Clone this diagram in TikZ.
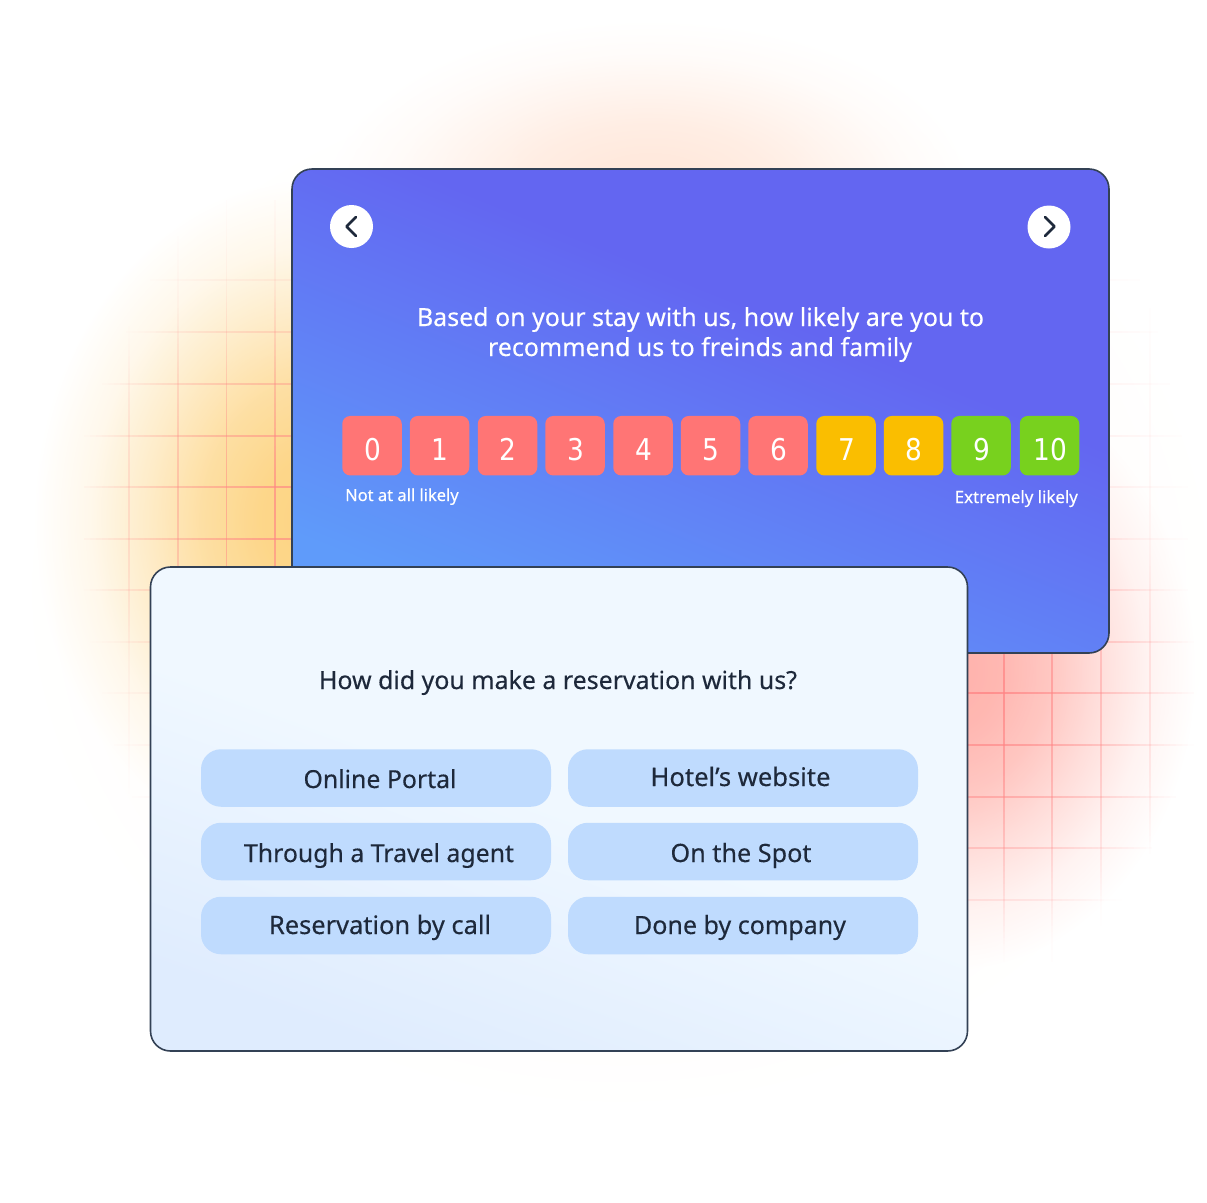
\documentclass[tikz,border=0pt]{standalone}
\usepackage{fontspec}
\usepackage{graphicx}
\setmainfont[FakeBold=0.25]{Noto Sans}
\newfontfamily\digitfont[FakeStretch=.88]{DejaVu Sans}
\usetikzlibrary{fadings}
\definecolor{ink}{HTML}{1E293B}
\definecolor{edge}{HTML}{334155}
\definecolor{cardtop}{HTML}{6366F1}
\definecolor{cardlow}{HTML}{5F9BFA}
\definecolor{paletop}{HTML}{F0F8FF}
\definecolor{palelow}{HTML}{DFECFE}
\definecolor{pill}{HTML}{BFDBFE}
\definecolor{nred}{HTML}{FF7575}
\definecolor{nyel}{HTML}{FABE00}
\definecolor{ngrn}{HTML}{78D11E}
\definecolor{gridc}{HTML}{FF8585}
\pgfdeclareradialshading{softglowshade}{\pgfpointorigin}{%
 color(0bp)=(pgftransparent!0);
 color(5bp)=(pgftransparent!8);
 color(10bp)=(pgftransparent!28);
 color(15bp)=(pgftransparent!58);
 color(20bp)=(pgftransparent!85);
 color(25bp)=(pgftransparent!100);
 color(50bp)=(pgftransparent!100)}
\pgfdeclarefading{softglow}{\pgfuseshading{softglowshade}}
\pgfdeclareverticalshading{cardfade}{100bp}{%
 color(0bp)=(cardlow); color(27bp)=(cardlow); color(60bp)=(cardtop); color(100bp)=(cardtop)}
\newcommand\fitw[2]{\resizebox{#1pt}{!}{#2}}
\tikzset{
 x=1pt,y=-1pt,
 declare function={
  gridop(\a,\b)=max(0.7*max(0,1-veclen((\a-285)/215,(\b-510)/260)),
      0.8*max(0,1-veclen((\a-985)/215,(\b-690)/265)),
      0.30*max(0,1-veclen((\a-285)/205,(\b-560)/400)),
      0.22*max(0,1-veclen((\a-1030)/170,(\b-570)/420)));
 },
 glowspot/.style={path fading=softglow,draw=none},
 card/.style={draw=edge,line width=1.6pt,rounded corners=20pt,inner sep=0pt,outer sep=0pt,
   minimum width=#1,minimum height=484pt,anchor=north west},
 sq/.style={fill=#1,rounded corners=8pt,inner sep=0pt,minimum width=59.5pt,minimum height=59.5pt,draw=none},
 digit/.style={text=white,font=\digitfont\fontsize{30}{30}\selectfont,anchor=base,inner sep=0pt},
 pillbox/.style={fill=pill,rounded corners=20pt,inner sep=0pt,minimum width=350pt,minimum height=57.5pt,draw=none},
 pilltext/.style={text=ink,anchor=base,inner sep=0pt},
 whitetext/.style={text=white,anchor=base,inner sep=0pt},
 navdisc/.style={circle,fill=white,inner sep=0pt,minimum size=43pt,draw=none},
 chev/.style={draw=ink,line width=2.6pt,line cap=round,line join=round},
}
\begin{document}
\begin{tikzpicture}
\useasboundingbox (0,0) rectangle (1207,1202);
% soft colour glows
\fill[glowspot,fill=orange!12!white,opacity=.6] (620,590) ellipse (610 and 530);
\fill[glowspot,fill={rgb,255:red,255;green,226;blue,210},opacity=.8] (650,190) ellipse (320 and 170);
\fill[glowspot,fill={rgb,255:red,253;green,212;blue,130},opacity=1] (315,520) ellipse (280 and 340);
\fill[glowspot,fill={rgb,255:red,255;green,178;blue,172},opacity=1] (950,670) ellipse (245 and 300);
% faded grid
\foreach \gy in {280,332,384,436,487,539,590,642,693,745,797,848,900}{
 \foreach \gx in {84,90,...,1194}{
  \pgfmathsetmacro\gop{gridop(\gx+3,\gy)}
  \pgfmathparse{\gop>0.012?1:0}
  \ifnum\pgfmathresult=1
   \draw[gridc,line width=1.2pt,opacity=\gop] (\gx,\gy) -- (\gx+6,\gy);
  \fi
 }
}
\foreach \gx in {129,178,226.7,275,1004,1052,1101,1150}{
 \foreach \gy in {200,206,...,980}{
  \pgfmathsetmacro\gop{gridop(\gx,\gy+3)}
  \pgfmathparse{\gop>0.012?1:0}
  \ifnum\pgfmathresult=1
   \draw[gridc,line width=1.2pt,opacity=\gop] (\gx,\gy) -- (\gx,\gy+6);
  \fi
 }
}
% upper card
\node[card=817pt,shading=cardfade,shading angle=-22] (upper) at (292,169) {};
\node[navdisc] (prev) at (351.5,226.5) {};
\node[navdisc] (next) at (1049,227) {};
\coordinate (p1) at (356,217); \coordinate (p2) at (346.5,226.5); \coordinate (p3) at (356,236);
\coordinate (n1) at (1045,217); \coordinate (n2) at (1054.5,226.5); \coordinate (n3) at (1045,236);
\draw[chev] (p1) -- (p2) -- (p3);
\draw[chev] (n1) -- (n2) -- (n3);
\node[whitetext] (q1a) at (700.5,326) {\fitw{567}{Based on your stay with us, how likely are you to}};
\node[whitetext] (q1b) at (700,356) {\fitw{424}{recommend us to freinds and family}};
\foreach \n/\cx/\col in {0/372/nred,1/439.5/nred,2/507.5/nred,3/575/nred,4/643/nred,5/710.5/nred,6/778/nred,7/846/nyel,8/913.5/nyel,9/981/ngrn,10/1049.5/ngrn}{
 \node[sq=\col] (s\n) at (\cx,445.7) {};
 \node[digit] (d\n) at (\cx+0.5,460.5) {\n};
}
\node[whitetext,anchor=base west] (lo) at (345,501) {\fitw{113.5}{Not at all likely}};
\node[whitetext,anchor=base east] (hi) at (1078,503) {\fitw{123}{Extremely likely}};
% lower card
\node[card=817pt,top color=paletop,bottom color=palelow,middle color=paletop,shading angle=-20] (lower) at (150.5,567) {};
\node[pilltext] (q2) at (558,689) {\fitw{478}{How did you make a reservation with us?}};
\node[pillbox] (a1) at (376,778) {};
\node[pillbox] (a2) at (743,778) {};
\node[pillbox] (a3) at (376,851.5) {};
\node[pillbox] (a4) at (743,851.5) {};
\node[pillbox] (a5) at (376,925.5) {};
\node[pillbox] (a6) at (743,925.5) {};
\node[pilltext] (t1) at (380,788) {\fitw{153}{Online Portal}};
\node[pilltext] (t2) at (740.5,786) {\fitw{180}{Hotel’s website}};
\node[pilltext] (t3) at (379,862) {\fitw{270}{Through a Travel agent}};
\node[pilltext] (t4) at (741,862) {\fitw{141}{On the Spot}};
\node[pilltext] (t5) at (380,934) {\fitw{222}{Reservation by call}};
\node[pilltext] (t6) at (740,934) {\fitw{212}{Done by company}};
\end{tikzpicture}
\end{document}
